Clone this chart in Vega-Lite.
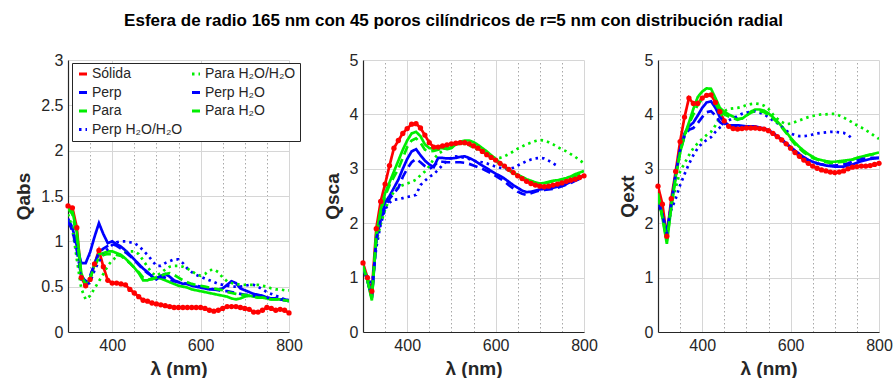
{
"$schema": "https://vega.github.io/schema/vega-lite/v6.json",
"background": "white",
"padding": {"left": 14, "top": 12, "right": 5, "bottom": 0},
"title": {"text": "Esfera de radio 165 nm con 45 poros cilíndricos de r=5 nm con distribución radial", "fontSize": 17, "font": "Liberation Sans", "fontWeight": "bold", "anchor": "middle", "offset": 22, "color": "black"},
"config": {
  "font": "Liberation Sans",
  "view": {"stroke": null},
  "axis": {"labelFontSize": 16, "labelColor": "#262626", "domainColor": "#262626", "domainWidth": 1.2, "ticks": false, "labelPadding": 5, "titleFontSize": 19, "titleFontWeight": "bold", "titleColor": "#262626", "gridColor": "#d6d6d6", "gridWidth": 1},
  "axisX": {"titlePadding": 6}
},
"datasets": {
"abs": [
{"l":300,"S":1.39,"Pe":1.25,"Pa":1.38,"PeWW":1.22,"PaWW":1.30,"PeW":1.22,"PaW":1.36},
{"l":310,"S":1.37,"Pe":1.15,"Pa":1.33,"PeWW":1.12,"PaWW":1.15,"PeW":1.12,"PaW":1.30},
{"l":320,"S":1.15,"Pe":0.95,"Pa":1.10,"PeWW":0.85,"PaWW":0.80,"PeW":0.90,"PaW":1.05},
{"l":330,"S":0.60,"Pe":0.76,"Pa":0.65,"PeWW":0.58,"PaWW":0.48,"PeW":0.62,"PaW":0.62},
{"l":340,"S":0.51,"Pe":0.76,"Pa":0.52,"PeWW":0.50,"PaWW":0.36,"PeW":0.56,"PaW":0.53},
{"l":350,"S":0.58,"Pe":0.88,"Pa":0.58,"PeWW":0.55,"PaWW":0.40,"PeW":0.62,"PaW":0.60},
{"l":360,"S":0.75,"Pe":1.05,"Pa":0.75,"PeWW":0.68,"PaWW":0.48,"PeW":0.75,"PaW":0.72},
{"l":370,"S":0.90,"Pe":1.20,"Pa":0.86,"PeWW":0.78,"PaWW":0.56,"PeW":0.88,"PaW":0.82},
{"l":380,"S":0.72,"Pe":1.08,"Pa":0.87,"PeWW":0.85,"PaWW":0.64,"PeW":0.92,"PaW":0.85},
{"l":390,"S":0.57,"Pe":0.98,"Pa":0.89,"PeWW":0.92,"PaWW":0.73,"PeW":0.95,"PaW":0.86},
{"l":400,"S":0.54,"Pe":1.00,"Pa":0.89,"PeWW":0.96,"PaWW":0.79,"PeW":0.97,"PaW":0.86},
{"l":410,"S":0.54,"Pe":0.97,"Pa":0.87,"PeWW":0.99,"PaWW":0.83,"PeW":0.95,"PaW":0.85},
{"l":420,"S":0.53,"Pe":0.94,"Pa":0.85,"PeWW":1.00,"PaWW":0.86,"PeW":0.92,"PaW":0.84},
{"l":430,"S":0.52,"Pe":0.90,"Pa":0.81,"PeWW":1.00,"PaWW":0.88,"PeW":0.88,"PaW":0.80},
{"l":440,"S":0.47,"Pe":0.85,"Pa":0.76,"PeWW":0.99,"PaWW":0.89,"PeW":0.84,"PaW":0.76},
{"l":450,"S":0.43,"Pe":0.80,"Pa":0.71,"PeWW":0.98,"PaWW":0.89,"PeW":0.79,"PaW":0.71},
{"l":460,"S":0.39,"Pe":0.75,"Pa":0.65,"PeWW":0.95,"PaWW":0.86,"PeW":0.74,"PaW":0.66},
{"l":470,"S":0.35,"Pe":0.70,"Pa":0.57,"PeWW":0.90,"PaWW":0.79,"PeW":0.69,"PaW":0.60},
{"l":480,"S":0.34,"Pe":0.66,"Pa":0.57,"PeWW":0.85,"PaWW":0.72,"PeW":0.65,"PaW":0.58},
{"l":490,"S":0.32,"Pe":0.61,"Pa":0.59,"PeWW":0.79,"PaWW":0.65,"PeW":0.62,"PaW":0.58},
{"l":500,"S":0.31,"Pe":0.58,"Pa":0.60,"PeWW":0.73,"PaWW":0.62,"PeW":0.60,"PaW":0.60},
{"l":510,"S":0.30,"Pe":0.62,"Pa":0.59,"PeWW":0.73,"PaWW":0.65,"PeW":0.61,"PaW":0.62},
{"l":520,"S":0.29,"Pe":0.64,"Pa":0.57,"PeWW":0.76,"PaWW":0.69,"PeW":0.60,"PaW":0.64},
{"l":530,"S":0.28,"Pe":0.61,"Pa":0.55,"PeWW":0.78,"PaWW":0.72,"PeW":0.58,"PaW":0.65},
{"l":540,"S":0.27,"Pe":0.57,"Pa":0.53,"PeWW":0.80,"PaWW":0.73,"PeW":0.56,"PaW":0.63},
{"l":550,"S":0.27,"Pe":0.55,"Pa":0.51,"PeWW":0.80,"PaWW":0.73,"PeW":0.55,"PaW":0.60},
{"l":560,"S":0.27,"Pe":0.53,"Pa":0.50,"PeWW":0.76,"PaWW":0.72,"PeW":0.54,"PaW":0.57},
{"l":570,"S":0.27,"Pe":0.53,"Pa":0.49,"PeWW":0.70,"PaWW":0.70,"PeW":0.53,"PaW":0.55},
{"l":580,"S":0.27,"Pe":0.51,"Pa":0.47,"PeWW":0.66,"PaWW":0.67,"PeW":0.52,"PaW":0.53},
{"l":590,"S":0.27,"Pe":0.50,"Pa":0.46,"PeWW":0.63,"PaWW":0.64,"PeW":0.51,"PaW":0.52},
{"l":600,"S":0.27,"Pe":0.49,"Pa":0.45,"PeWW":0.61,"PaWW":0.62,"PeW":0.50,"PaW":0.51},
{"l":610,"S":0.26,"Pe":0.48,"Pa":0.44,"PeWW":0.59,"PaWW":0.64,"PeW":0.49,"PaW":0.50},
{"l":620,"S":0.24,"Pe":0.47,"Pa":0.43,"PeWW":0.57,"PaWW":0.68,"PeW":0.48,"PaW":0.49},
{"l":630,"S":0.23,"Pe":0.47,"Pa":0.42,"PeWW":0.55,"PaWW":0.69,"PeW":0.47,"PaW":0.48},
{"l":640,"S":0.24,"Pe":0.47,"Pa":0.41,"PeWW":0.53,"PaWW":0.66,"PeW":0.46,"PaW":0.47},
{"l":650,"S":0.26,"Pe":0.48,"Pa":0.40,"PeWW":0.52,"PaWW":0.60,"PeW":0.45,"PaW":0.46},
{"l":660,"S":0.28,"Pe":0.52,"Pa":0.39,"PeWW":0.51,"PaWW":0.56,"PeW":0.45,"PaW":0.44},
{"l":670,"S":0.28,"Pe":0.56,"Pa":0.37,"PeWW":0.50,"PaWW":0.54,"PeW":0.44,"PaW":0.43},
{"l":680,"S":0.28,"Pe":0.54,"Pa":0.36,"PeWW":0.50,"PaWW":0.53,"PeW":0.43,"PaW":0.42},
{"l":690,"S":0.27,"Pe":0.48,"Pa":0.37,"PeWW":0.50,"PaWW":0.52,"PeW":0.42,"PaW":0.41},
{"l":700,"S":0.26,"Pe":0.46,"Pa":0.39,"PeWW":0.51,"PaWW":0.52,"PeW":0.41,"PaW":0.41},
{"l":710,"S":0.25,"Pe":0.44,"Pa":0.40,"PeWW":0.52,"PaWW":0.52,"PeW":0.41,"PaW":0.40},
{"l":720,"S":0.22,"Pe":0.42,"Pa":0.39,"PeWW":0.52,"PaWW":0.52,"PeW":0.40,"PaW":0.39},
{"l":730,"S":0.22,"Pe":0.41,"Pa":0.38,"PeWW":0.50,"PaWW":0.52,"PeW":0.39,"PaW":0.38},
{"l":740,"S":0.24,"Pe":0.40,"Pa":0.38,"PeWW":0.47,"PaWW":0.51,"PeW":0.39,"PaW":0.38},
{"l":750,"S":0.27,"Pe":0.38,"Pa":0.37,"PeWW":0.44,"PaWW":0.50,"PeW":0.38,"PaW":0.37},
{"l":760,"S":0.26,"Pe":0.37,"Pa":0.36,"PeWW":0.42,"PaWW":0.48,"PeW":0.37,"PaW":0.36},
{"l":770,"S":0.24,"Pe":0.37,"Pa":0.36,"PeWW":0.40,"PaWW":0.47,"PeW":0.37,"PaW":0.36},
{"l":780,"S":0.25,"Pe":0.36,"Pa":0.36,"PeWW":0.38,"PaWW":0.47,"PeW":0.36,"PaW":0.36},
{"l":790,"S":0.24,"Pe":0.36,"Pa":0.35,"PeWW":0.36,"PaWW":0.46,"PeW":0.35,"PaW":0.35},
{"l":800,"S":0.21,"Pe":0.35,"Pa":0.35,"PeWW":0.35,"PaWW":0.46,"PeW":0.34,"PaW":0.34}
],
"sca": [
{"l":300,"S":1.27,"Pe":1.20,"Pa":1.22,"PeWW":1.15,"PaWW":1.18,"PeW":1.18,"PaW":1.20},
{"l":310,"S":1.00,"Pe":0.95,"Pa":0.95,"PeWW":1.02,"PaWW":1.00,"PeW":0.95,"PaW":0.95},
{"l":320,"S":0.75,"Pe":0.62,"Pa":0.58,"PeWW":0.85,"PaWW":0.70,"PeW":0.65,"PaW":0.62},
{"l":330,"S":1.90,"Pe":1.70,"Pa":1.80,"PeWW":1.55,"PaWW":1.65,"PeW":1.70,"PaW":1.75},
{"l":340,"S":2.40,"Pe":2.10,"Pa":2.25,"PeWW":1.98,"PaWW":1.98,"PeW":2.05,"PaW":2.20},
{"l":350,"S":2.72,"Pe":2.38,"Pa":2.55,"PeWW":2.25,"PaWW":2.25,"PeW":2.30,"PaW":2.50},
{"l":360,"S":3.06,"Pe":2.50,"Pa":2.75,"PeWW":2.38,"PaWW":2.45,"PeW":2.45,"PaW":2.70},
{"l":370,"S":3.38,"Pe":2.65,"Pa":2.95,"PeWW":2.43,"PaWW":2.58,"PeW":2.55,"PaW":2.85},
{"l":380,"S":3.52,"Pe":2.80,"Pa":3.15,"PeWW":2.44,"PaWW":2.66,"PeW":2.65,"PaW":3.00},
{"l":390,"S":3.65,"Pe":3.00,"Pa":3.35,"PeWW":2.46,"PaWW":2.70,"PeW":2.85,"PaW":3.20},
{"l":400,"S":3.74,"Pe":3.18,"Pa":3.52,"PeWW":2.48,"PaWW":2.73,"PeW":3.00,"PaW":3.40},
{"l":410,"S":3.82,"Pe":3.32,"Pa":3.65,"PeWW":2.50,"PaWW":2.76,"PeW":3.12,"PaW":3.52},
{"l":420,"S":3.83,"Pe":3.36,"Pa":3.68,"PeWW":2.52,"PaWW":2.80,"PeW":3.18,"PaW":3.56},
{"l":430,"S":3.75,"Pe":3.25,"Pa":3.60,"PeWW":2.70,"PaWW":2.88,"PeW":3.12,"PaW":3.48},
{"l":440,"S":3.62,"Pe":3.15,"Pa":3.45,"PeWW":2.78,"PaWW":2.95,"PeW":3.05,"PaW":3.35},
{"l":450,"S":3.48,"Pe":3.08,"Pa":3.38,"PeWW":2.85,"PaWW":3.05,"PeW":3.00,"PaW":3.32},
{"l":460,"S":3.40,"Pe":3.03,"Pa":3.37,"PeWW":2.90,"PaWW":3.18,"PeW":3.05,"PaW":3.33},
{"l":470,"S":3.40,"Pe":3.20,"Pa":3.38,"PeWW":2.98,"PaWW":3.27,"PeW":3.13,"PaW":3.35},
{"l":480,"S":3.42,"Pe":3.20,"Pa":3.38,"PeWW":3.07,"PaWW":3.33,"PeW":3.13,"PaW":3.37},
{"l":490,"S":3.44,"Pe":3.19,"Pa":3.36,"PeWW":3.15,"PaWW":3.39,"PeW":3.12,"PaW":3.37},
{"l":500,"S":3.46,"Pe":3.19,"Pa":3.38,"PeWW":3.21,"PaWW":3.43,"PeW":3.12,"PaW":3.40},
{"l":510,"S":3.47,"Pe":3.20,"Pa":3.45,"PeWW":3.23,"PaWW":3.45,"PeW":3.12,"PaW":3.45},
{"l":520,"S":3.48,"Pe":3.22,"Pa":3.50,"PeWW":3.22,"PaWW":3.46,"PeW":3.12,"PaW":3.47},
{"l":530,"S":3.48,"Pe":3.23,"Pa":3.52,"PeWW":3.20,"PaWW":3.46,"PeW":3.11,"PaW":3.47},
{"l":540,"S":3.46,"Pe":3.20,"Pa":3.52,"PeWW":3.18,"PaWW":3.43,"PeW":3.09,"PaW":3.46},
{"l":550,"S":3.42,"Pe":3.16,"Pa":3.49,"PeWW":3.15,"PaWW":3.39,"PeW":3.06,"PaW":3.43},
{"l":560,"S":3.38,"Pe":3.11,"Pa":3.44,"PeWW":3.13,"PaWW":3.35,"PeW":3.03,"PaW":3.39},
{"l":570,"S":3.32,"Pe":3.06,"Pa":3.38,"PeWW":3.12,"PaWW":3.30,"PeW":3.00,"PaW":3.33},
{"l":580,"S":3.26,"Pe":3.01,"Pa":3.32,"PeWW":3.10,"PaWW":3.25,"PeW":2.96,"PaW":3.27},
{"l":590,"S":3.21,"Pe":2.96,"Pa":3.25,"PeWW":3.07,"PaWW":3.22,"PeW":2.92,"PaW":3.21},
{"l":600,"S":3.16,"Pe":2.91,"Pa":3.18,"PeWW":3.04,"PaWW":3.20,"PeW":2.87,"PaW":3.15},
{"l":610,"S":3.10,"Pe":2.87,"Pa":3.11,"PeWW":3.02,"PaWW":3.20,"PeW":2.82,"PaW":3.09},
{"l":620,"S":3.05,"Pe":2.82,"Pa":3.04,"PeWW":3.00,"PaWW":3.23,"PeW":2.77,"PaW":3.03},
{"l":630,"S":2.99,"Pe":2.76,"Pa":2.98,"PeWW":2.99,"PaWW":3.27,"PeW":2.70,"PaW":2.97},
{"l":640,"S":2.93,"Pe":2.70,"Pa":2.93,"PeWW":3.02,"PaWW":3.32,"PeW":2.64,"PaW":2.92},
{"l":650,"S":2.87,"Pe":2.65,"Pa":2.89,"PeWW":3.06,"PaWW":3.37,"PeW":2.58,"PaW":2.88},
{"l":660,"S":2.82,"Pe":2.60,"Pa":2.85,"PeWW":3.10,"PaWW":3.41,"PeW":2.54,"PaW":2.84},
{"l":670,"S":2.77,"Pe":2.57,"Pa":2.81,"PeWW":3.14,"PaWW":3.45,"PeW":2.52,"PaW":2.80},
{"l":680,"S":2.73,"Pe":2.58,"Pa":2.78,"PeWW":3.17,"PaWW":3.48,"PeW":2.55,"PaW":2.77},
{"l":690,"S":2.70,"Pe":2.60,"Pa":2.75,"PeWW":3.19,"PaWW":3.51,"PeW":2.58,"PaW":2.74},
{"l":700,"S":2.68,"Pe":2.62,"Pa":2.73,"PeWW":3.20,"PaWW":3.53,"PeW":2.60,"PaW":2.72},
{"l":710,"S":2.67,"Pe":2.63,"Pa":2.74,"PeWW":3.19,"PaWW":3.52,"PeW":2.61,"PaW":2.73},
{"l":720,"S":2.68,"Pe":2.64,"Pa":2.76,"PeWW":3.15,"PaWW":3.49,"PeW":2.62,"PaW":2.75},
{"l":730,"S":2.70,"Pe":2.65,"Pa":2.78,"PeWW":3.10,"PaWW":3.45,"PeW":2.63,"PaW":2.77},
{"l":740,"S":2.72,"Pe":2.67,"Pa":2.79,"PeWW":3.05,"PaWW":3.40,"PeW":2.65,"PaW":2.78},
{"l":750,"S":2.74,"Pe":2.69,"Pa":2.81,"PaWW":3.36,"PeW":2.68,"PaW":2.80},
{"l":760,"S":2.77,"Pe":2.72,"Pa":2.83,"PaWW":3.32,"PeW":2.71,"PaW":2.82},
{"l":770,"S":2.79,"Pe":2.76,"Pa":2.86,"PaWW":3.27,"PeW":2.74,"PaW":2.84},
{"l":780,"S":2.81,"Pe":2.80,"Pa":2.90,"PaWW":3.22,"PeW":2.78,"PaW":2.87},
{"l":790,"S":2.84,"Pe":2.83,"Pa":2.93,"PaWW":3.16,"PeW":2.81,"PaW":2.90},
{"l":800,"S":2.87,"Pe":2.87,"Pa":2.96,"PaWW":3.10,"PeW":2.85,"PaW":2.93}
],
"ext": [
{"l":300,"S":2.68,"Pe":2.45,"Pa":2.55,"PeWW":2.40,"PaWW":2.45,"PeW":2.42,"PaW":2.50},
{"l":310,"S":2.35,"Pe":2.15,"Pa":2.10,"PeWW":2.15,"PaWW":2.15,"PeW":2.15,"PaW":2.10},
{"l":320,"S":1.76,"Pe":1.80,"Pa":1.62,"PeWW":1.85,"PaWW":1.75,"PeW":1.80,"PaW":1.68},
{"l":330,"S":2.45,"Pe":2.35,"Pa":2.30,"PeWW":2.25,"PaWW":2.35,"PeW":2.35,"PaW":2.30},
{"l":340,"S":2.95,"Pe":2.90,"Pa":2.85,"PeWW":2.45,"PaWW":2.65,"PeW":2.90,"PaW":2.85},
{"l":350,"S":3.50,"Pe":3.35,"Pa":3.30,"PeWW":2.70,"PaWW":2.95,"PeW":3.35,"PaW":3.30},
{"l":360,"S":3.95,"Pe":3.65,"Pa":3.62,"PeWW":2.90,"PaWW":3.10,"PeW":3.60,"PaW":3.60},
{"l":370,"S":4.30,"Pe":3.78,"Pa":3.85,"PeWW":3.09,"PaWW":3.25,"PeW":3.72,"PaW":3.82},
{"l":380,"S":4.20,"Pe":3.85,"Pa":4.10,"PeWW":3.25,"PaWW":3.38,"PeW":3.75,"PaW":4.00},
{"l":390,"S":4.20,"Pe":3.98,"Pa":4.32,"PeWW":3.38,"PaWW":3.47,"PeW":3.84,"PaW":4.18},
{"l":400,"S":4.30,"Pe":4.12,"Pa":4.42,"PeWW":3.47,"PaWW":3.55,"PeW":3.95,"PaW":4.28},
{"l":410,"S":4.35,"Pe":4.22,"Pa":4.48,"PeWW":3.53,"PaWW":3.62,"PeW":4.04,"PaW":4.36},
{"l":420,"S":4.36,"Pe":4.24,"Pa":4.47,"PeWW":3.58,"PaWW":3.68,"PeW":4.06,"PaW":4.36},
{"l":430,"S":4.22,"Pe":4.12,"Pa":4.30,"PeWW":3.68,"PaWW":3.80,"PeW":3.98,"PaW":4.20},
{"l":440,"S":4.05,"Pe":3.95,"Pa":4.12,"PeWW":3.76,"PaWW":3.95,"PeW":3.86,"PaW":4.06},
{"l":450,"S":3.88,"Pe":3.86,"Pa":4.05,"PeWW":3.82,"PaWW":4.06,"PeW":3.80,"PaW":4.00},
{"l":460,"S":3.78,"Pe":3.80,"Pa":4.00,"PeWW":3.89,"PaWW":4.10,"PeW":3.78,"PaW":3.96},
{"l":470,"S":3.74,"Pe":3.80,"Pa":3.96,"PeWW":3.93,"PaWW":4.11,"PeW":3.78,"PaW":3.93},
{"l":480,"S":3.73,"Pe":3.80,"Pa":3.92,"PeWW":3.97,"PaWW":4.12,"PeW":3.78,"PaW":3.90},
{"l":490,"S":3.74,"Pe":3.79,"Pa":3.92,"PeWW":4.01,"PaWW":4.14,"PeW":3.77,"PaW":3.93},
{"l":500,"S":3.75,"Pe":3.78,"Pa":3.98,"PeWW":4.03,"PaWW":4.17,"PeW":3.76,"PaW":3.98},
{"l":510,"S":3.75,"Pe":3.78,"Pa":4.05,"PeWW":4.05,"PaWW":4.19,"PeW":3.76,"PaW":4.03},
{"l":520,"S":3.75,"Pe":3.78,"Pa":4.09,"PeWW":4.05,"PaWW":4.20,"PeW":3.76,"PaW":4.06},
{"l":530,"S":3.74,"Pe":3.76,"Pa":4.09,"PeWW":4.03,"PaWW":4.19,"PeW":3.75,"PaW":4.06},
{"l":540,"S":3.73,"Pe":3.74,"Pa":4.07,"PeWW":4.00,"PaWW":4.16,"PeW":3.73,"PaW":4.04},
{"l":550,"S":3.70,"Pe":3.71,"Pa":4.02,"PeWW":3.95,"PaWW":4.10,"PeW":3.70,"PaW":3.99},
{"l":560,"S":3.65,"Pe":3.66,"Pa":3.95,"PeWW":3.89,"PaWW":4.00,"PeW":3.65,"PaW":3.93},
{"l":570,"S":3.59,"Pe":3.60,"Pa":3.87,"PeWW":3.84,"PaWW":3.92,"PeW":3.59,"PaW":3.85},
{"l":580,"S":3.53,"Pe":3.54,"Pa":3.78,"PeWW":3.77,"PaWW":3.86,"PeW":3.53,"PaW":3.76},
{"l":590,"S":3.46,"Pe":3.47,"Pa":3.68,"PeWW":3.70,"PaWW":3.82,"PeW":3.46,"PaW":3.66},
{"l":600,"S":3.38,"Pe":3.40,"Pa":3.57,"PeWW":3.65,"PaWW":3.83,"PeW":3.40,"PaW":3.55},
{"l":610,"S":3.30,"Pe":3.33,"Pa":3.48,"PeWW":3.62,"PaWW":3.86,"PeW":3.33,"PaW":3.45},
{"l":620,"S":3.23,"Pe":3.27,"Pa":3.40,"PeWW":3.60,"PaWW":3.89,"PeW":3.27,"PaW":3.37},
{"l":630,"S":3.16,"Pe":3.21,"Pa":3.33,"PeWW":3.60,"PaWW":3.92,"PeW":3.21,"PaW":3.30},
{"l":640,"S":3.10,"Pe":3.16,"Pa":3.27,"PeWW":3.61,"PaWW":3.95,"PeW":3.16,"PaW":3.25},
{"l":650,"S":3.05,"Pe":3.13,"Pa":3.22,"PeWW":3.63,"PaWW":3.97,"PeW":3.13,"PaW":3.20},
{"l":660,"S":3.01,"Pe":3.10,"Pa":3.18,"PeWW":3.65,"PaWW":3.99,"PeW":3.10,"PaW":3.17},
{"l":670,"S":2.98,"Pe":3.08,"Pa":3.16,"PeWW":3.66,"PaWW":4.00,"PeW":3.08,"PaW":3.14},
{"l":680,"S":2.96,"Pe":3.06,"Pa":3.14,"PeWW":3.67,"PaWW":4.00,"PeW":3.07,"PaW":3.12},
{"l":690,"S":2.94,"Pe":3.05,"Pa":3.13,"PeWW":3.68,"PaWW":4.01,"PeW":3.06,"PaW":3.11},
{"l":700,"S":2.93,"Pe":3.04,"Pa":3.13,"PeWW":3.68,"PaWW":4.01,"PeW":3.06,"PaW":3.11},
{"l":710,"S":2.94,"Pe":3.04,"Pa":3.14,"PeWW":3.67,"PaWW":3.98,"PeW":3.07,"PaW":3.12},
{"l":720,"S":2.96,"Pe":3.04,"Pa":3.15,"PeWW":3.66,"PaWW":3.94,"PeW":3.08,"PaW":3.13},
{"l":730,"S":3.00,"Pe":3.06,"Pa":3.16,"PeWW":3.62,"PaWW":3.90,"PeW":3.10,"PaW":3.15},
{"l":740,"S":3.03,"Pe":3.08,"Pa":3.17,"PeWW":3.55,"PaWW":3.85,"PeW":3.13,"PaW":3.17},
{"l":750,"S":3.04,"Pe":3.11,"Pa":3.20,"PaWW":3.80,"PeW":3.16,"PaW":3.20},
{"l":760,"S":3.05,"Pe":3.14,"Pa":3.22,"PaWW":3.76,"PeW":3.18,"PaW":3.22},
{"l":770,"S":3.05,"Pe":3.16,"Pa":3.24,"PaWW":3.71,"PeW":3.19,"PaW":3.24},
{"l":780,"S":3.06,"Pe":3.18,"Pa":3.26,"PaWW":3.66,"PeW":3.20,"PaW":3.26},
{"l":790,"S":3.08,"Pe":3.19,"Pa":3.28,"PaWW":3.60,"PeW":3.20,"PaW":3.27},
{"l":800,"S":3.10,"Pe":3.20,"Pa":3.30,"PaWW":3.55,"PeW":3.20,"PaW":3.28}
]
},
"bounds": "flush",
"spacing": 74,
"resolve": {"scale": {"color": "independent", "strokeDash": "independent", "y": "independent"}},
"hconcat": [
{
 "width": 221, "height": 272,
 "data": {"name": "abs"},
 "transform": [{"fold": ["S","Pe","Pa","PeWW","PaWW","PeW","PaW"], "as": ["k","v"]}],
 "resolve": {"axis": {"x": "independent"}},
 "layer": [
  {"mark": {"type": "line", "strokeWidth": 2.7, "clip": true},
   "encoding": {
    "x": {"field": "l", "type": "quantitative", "scale": {"domain": [300,800], "nice": false},
          "axis": {"title": "λ (nm)", "values": [400,600,800], "labelOverlap": false, "labelFlush": false}},
    "y": {"field": "v", "type": "quantitative", "scale": {"domain": [0,3], "nice": false},
          "axis": {"title": "Qabs", "values": [0,0.5,1,1.5,2,2.5,3], "format": "~g", "titlePadding": 7}},
    "color": {"field": "k", "type": "nominal",
              "scale": {"domain": ["S","Pe","Pa","PeWW","PaWW","PeW","PaW"], "range": ["#ff0000","#0000ff","#00ee00","#0000ff","#00ee00","#0000ff","#00ee00"]},
              "legend": {"orient": "none", "legendX": 4, "legendY": 3, "columns": 2, "title": null, "symbolType": "stroke", "symbolStrokeWidth": 3, "symbolSize": 64,
                         "labelFontSize": 14, "labelColor": "#262626", "fillColor": "white", "strokeColor": "#262626", "padding": 4, "rowPadding": 4.5, "columnPadding": 3, "gridAlign": "each", "labelOffset": 2,
                         "labelExpr": "datum.label=='S'?'Sólida':datum.label=='Pe'?'Perp':datum.label=='Pa'?'Para':datum.label=='PeWW'?'Perp H₂O/H₂O':datum.label=='PaWW'?'Para H₂O/H₂O':datum.label=='PeW'?'Perp H₂O':'Para H₂O'"}},
    "strokeDash": {"field": "k", "type": "nominal",
              "scale": {"domain": ["S","Pe","Pa","PeWW","PaWW","PeW","PaW"], "range": [[1,0],[1,0],[1,0],[2.5,4],[2.5,4],[9,5],[9,5]]},
              "legend": {"orient": "none", "legendX": 4, "legendY": 3, "columns": 2, "title": null, "symbolType": "stroke", "symbolStrokeWidth": 3, "symbolSize": 64,
                         "labelFontSize": 14, "labelColor": "#262626", "fillColor": "white", "strokeColor": "#262626", "padding": 4, "rowPadding": 4.5, "columnPadding": 3, "gridAlign": "each", "labelOffset": 2,
                         "labelExpr": "datum.label=='S'?'Sólida':datum.label=='Pe'?'Perp':datum.label=='Pa'?'Para':datum.label=='PeWW'?'Perp H₂O/H₂O':datum.label=='PaWW'?'Para H₂O/H₂O':datum.label=='PeW'?'Perp H₂O':'Para H₂O'"}}
   }},
  {"transform": [{"filter": "datum.k == 'S'"}],
   "mark": {"type": "point", "filled": true, "size": 28, "color": "#ff0000", "opacity": 1},
   "encoding": {"x": {"field": "l", "type": "quantitative", "axis": {"orient": "top", "values": [350,450,500,550,650,700,750], "labels": false, "domain": false, "ticks": false, "title": null, "grid": true, "gridDash": [1.5,2.5], "gridColor": "#a8a8a8"}},
                "y": {"field": "v", "type": "quantitative"}}}
 ]
},
{
 "width": 221, "height": 272,
 "data": {"name": "sca"},
 "transform": [{"fold": ["S","Pe","Pa","PeWW","PaWW","PeW","PaW"], "as": ["k","v"]}],
 "resolve": {"axis": {"x": "independent"}},
 "layer": [
  {"mark": {"type": "line", "strokeWidth": 2.7, "clip": true},
   "encoding": {
    "x": {"field": "l", "type": "quantitative", "scale": {"domain": [300,800], "nice": false},
          "axis": {"title": "λ (nm)", "values": [400,600,800], "labelOverlap": false, "labelFlush": false}},
    "y": {"field": "v", "type": "quantitative", "scale": {"domain": [0,5], "nice": false},
          "axis": {"title": "Qsca", "values": [0,1,2,3,4,5], "format": "~g", "titlePadding": 7}},
    "color": {"field": "k", "type": "nominal",
              "scale": {"domain": ["S","Pe","Pa","PeWW","PaWW","PeW","PaW"], "range": ["#ff0000","#0000ff","#00ee00","#0000ff","#00ee00","#0000ff","#00ee00"]}, "legend": null},
    "strokeDash": {"field": "k", "type": "nominal",
              "scale": {"domain": ["S","Pe","Pa","PeWW","PaWW","PeW","PaW"], "range": [[1,0],[1,0],[1,0],[2.5,4],[2.5,4],[9,5],[9,5]]}, "legend": null}
   }},
  {"transform": [{"filter": "datum.k == 'S'"}],
   "mark": {"type": "point", "filled": true, "size": 28, "color": "#ff0000", "opacity": 1},
   "encoding": {"x": {"field": "l", "type": "quantitative", "axis": {"orient": "top", "values": [350,450,500,550,650,700,750], "labels": false, "domain": false, "ticks": false, "title": null, "grid": true, "gridDash": [1.5,2.5], "gridColor": "#a8a8a8"}},
                "y": {"field": "v", "type": "quantitative"}}}
 ]
},
{
 "width": 221, "height": 272,
 "data": {"name": "ext"},
 "transform": [{"fold": ["S","Pe","Pa","PeWW","PaWW","PeW","PaW"], "as": ["k","v"]}],
 "resolve": {"axis": {"x": "independent"}},
 "layer": [
  {"mark": {"type": "line", "strokeWidth": 2.7, "clip": true},
   "encoding": {
    "x": {"field": "l", "type": "quantitative", "scale": {"domain": [300,800], "nice": false},
          "axis": {"title": "λ (nm)", "values": [400,600,800], "labelOverlap": false, "labelFlush": false}},
    "y": {"field": "v", "type": "quantitative", "scale": {"domain": [0,5], "nice": false},
          "axis": {"title": "Qext", "values": [0,1,2,3,4,5], "format": "~g", "titlePadding": 7}},
    "color": {"field": "k", "type": "nominal",
              "scale": {"domain": ["S","Pe","Pa","PeWW","PaWW","PeW","PaW"], "range": ["#ff0000","#0000ff","#00ee00","#0000ff","#00ee00","#0000ff","#00ee00"]}, "legend": null},
    "strokeDash": {"field": "k", "type": "nominal",
              "scale": {"domain": ["S","Pe","Pa","PeWW","PaWW","PeW","PaW"], "range": [[1,0],[1,0],[1,0],[2.5,4],[2.5,4],[9,5],[9,5]]}, "legend": null}
   }},
  {"transform": [{"filter": "datum.k == 'S'"}],
   "mark": {"type": "point", "filled": true, "size": 28, "color": "#ff0000", "opacity": 1},
   "encoding": {"x": {"field": "l", "type": "quantitative", "axis": {"orient": "top", "values": [350,450,500,550,650,700,750], "labels": false, "domain": false, "ticks": false, "title": null, "grid": true, "gridDash": [1.5,2.5], "gridColor": "#a8a8a8"}},
                "y": {"field": "v", "type": "quantitative"}}}
 ]
}
]
}
